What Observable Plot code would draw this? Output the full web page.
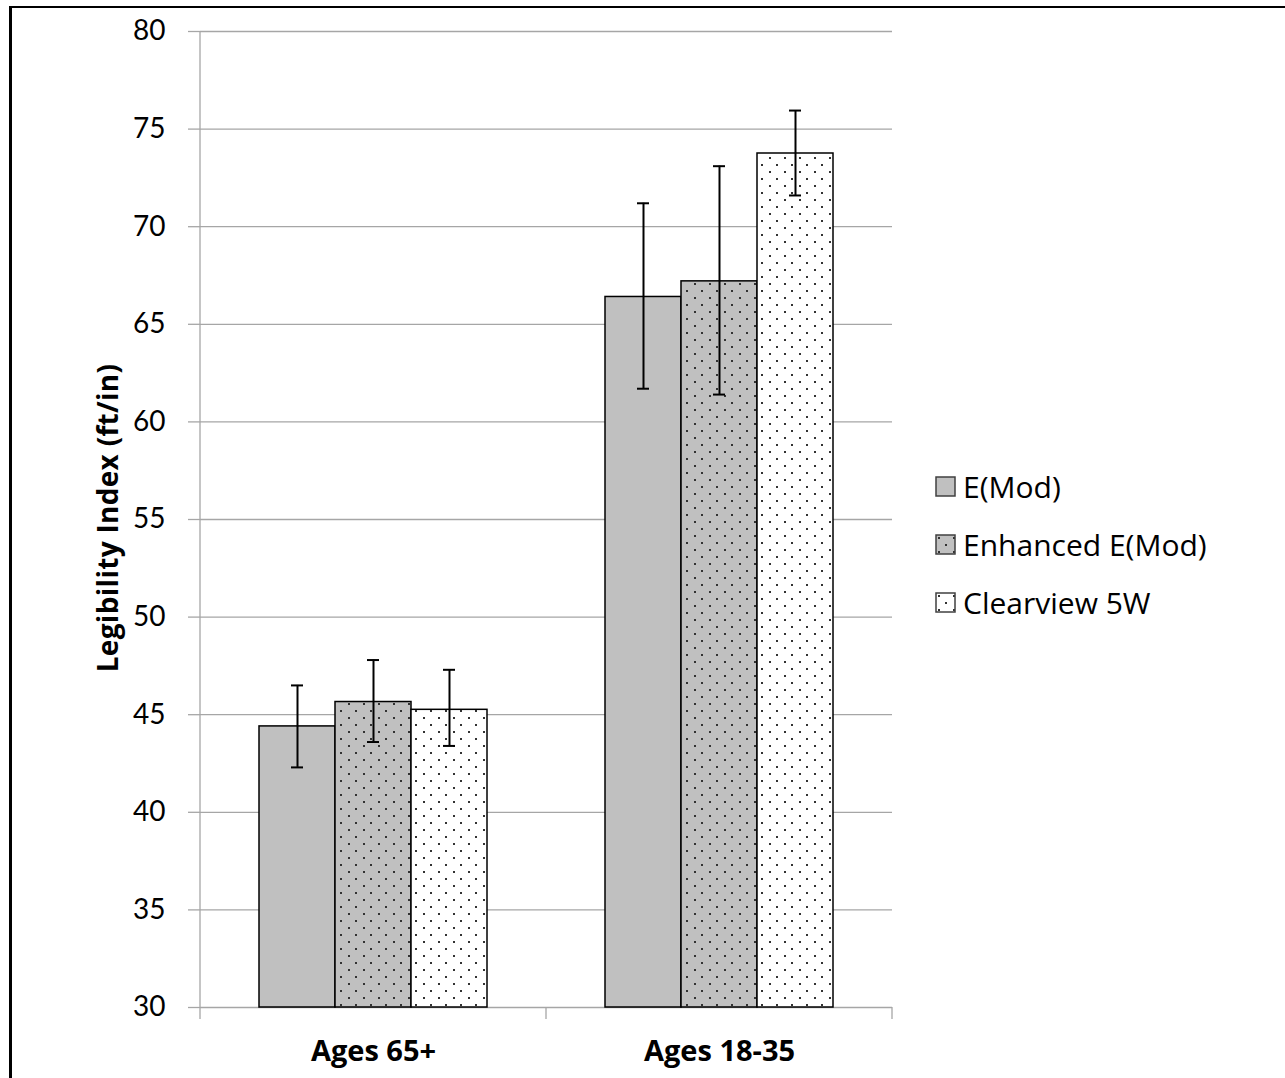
<!DOCTYPE html>
<html>
<head>
<meta charset="utf-8">
<script src="https://cdn.jsdelivr.net/npm/d3@7"></script>
<script src="https://cdn.jsdelivr.net/npm/@observablehq/plot@0.6"></script>
<style>
  body { margin: 0; background: #fff; }
  #wrap { position: relative; width: 1285px; height: 1078px; overflow: hidden; font-family: Lato, "Open Sans", sans-serif; background: #fff; }
  #frame { position: absolute; left: 9px; top: 6px; width: 1300px; height: 1100px; border-left: 3px solid #000; border-top: 2px solid #000; pointer-events: none; }
  #chart { position: absolute; left: 0; top: 0; }
  #ylabel { position: absolute; left: 107px; top: 518px; transform: translate(-50%, -50%) rotate(-90deg); font-family: "Open Sans", sans-serif; font-weight: bold; font-size: 28px; letter-spacing: 0.3px; white-space: nowrap; color: #000; }
  #legend { position: absolute; left: 935px; top: 457px; }
  .item { display: flex; align-items: center; height: 58px; font-family: "Open Sans", sans-serif; font-size: 30px; color: #000; }
  .item svg { margin-right: 7px; flex: none; }
</style>
</head>
<body>
<div id="wrap">
  <div id="chart"></div>
  <div id="ylabel">Legibility Index (ft/in)</div>
  <div id="legend"></div>
  <div id="frame"></div>
</div>
<script>
// ---- data ----
const groups = ["Ages 65+", "Ages 18-35"];
const series = ["E(Mod)", "Enhanced E(Mod)", "Clearview 5W"];
const meanAges65 = [44.4, 45.65, 45.25];
const meanAges18to35 = [66.4, 67.2, 73.75];
const upperAges65 = [46.5, 47.8, 47.3];
const upperAges18to35 = [71.2, 73.1, 75.95];
const lowerAges65 = [42.3, 43.6, 43.4];
const lowerAges18to35 = [61.7, 61.4, 71.6];
const yDomain = [30, 80];
const yTicks = [30, 35, 40, 45, 50, 55, 60, 65, 70, 75, 80];
const seriesFills = ["#c0c0c0", "url(#pat-enh)", "url(#pat-clear)"];

const means = [meanAges65, meanAges18to35];
const uppers = [upperAges65, upperAges18to35];
const lowers = [lowerAges65, lowerAges18to35];
const rows = [];
groups.forEach((g, gi) => series.forEach((s, si) => rows.push({
  group: g, series: s, value: means[gi][si], hi: uppers[gi][si], lo: lowers[gi][si]
})));

const chart = Plot.plot({
  width: 1285,
  height: 1078,
  marginLeft: 200,
  marginRight: 393,
  marginTop: 31,
  marginBottom: 71,
  style: { fontFamily: "Lato, 'Open Sans', sans-serif", background: "transparent", overflow: "visible" },
  fx: { domain: groups, padding: 0, label: null },
  x: { domain: series, paddingInner: 0, paddingOuter: 0.75, axis: null },
  y: { domain: yDomain, label: null },
  color: { domain: series, range: seriesFills },
  marks: [
    Plot.gridY(yTicks, { stroke: "#a6a6a6", strokeOpacity: 1, strokeWidth: 1.3 }),
    Plot.axisY(yTicks, { tickSize: 12, tickPadding: 23, fontSize: 28, stroke: "#a6a6a6", strokeWidth: 1.3, fill: "#000", label: null }),
    Plot.axisFx({ anchor: "bottom", tickSize: 0, tickPadding: 33, fontSize: 29, fill: "#000", label: null }),
    Plot.barY(rows, { fx: "group", x: "series", y1: yDomain[0], y2: "value", fill: "series", stroke: "#000", strokeWidth: 1.5 }),
    Plot.ruleX(rows, { fx: "group", x: "series", y1: "lo", y2: "hi", stroke: "#000", strokeWidth: 2 }),
    Plot.tickY(rows, { fx: "group", x: "series", y: "hi", insetLeft: 32, insetRight: 32, stroke: "#000", strokeWidth: 2 }),
    Plot.tickY(rows, { fx: "group", x: "series", y: "lo", insetLeft: 32, insetRight: 32, stroke: "#000", strokeWidth: 2 })
  ]
});
document.getElementById("chart").appendChild(chart);

const svg = d3.select(chart);
// patterns
const defs = svg.insert("defs", ":first-child");
function dotPattern(id, bg) {
  const p = defs.append("pattern").attr("id", id).attr("patternUnits", "userSpaceOnUse")
    .attr("width", 15).attr("height", 14);
  p.append("rect").attr("width", 15).attr("height", 14).attr("fill", bg);
  p.append("rect").attr("x", 3).attr("y", 3).attr("width", 2).attr("height", 2).attr("fill", "#333");
  p.append("rect").attr("x", 10).attr("y", 10).attr("width", 2).attr("height", 2).attr("fill", "#333");
}
dotPattern("pat-enh", "#c0c0c0");
dotPattern("pat-clear", "#ffffff");

// bold category labels
svg.selectAll("[aria-label='fx-axis tick label'] text")
  .attr("font-weight", "bold").attr("font-family", "'Open Sans', sans-serif");

// y axis line and category boundary ticks, from the plot's own scales
const ys = chart.scale("y"), fxs = chart.scale("fx");
const y = d3.scaleLinear(ys.domain, ys.range);
const fx = d3.scaleBand(fxs.domain, fxs.range).paddingInner(0).paddingOuter(0);
const bounds = [...fxs.domain.map(d => fx(d)), fx.range()[1]];
const g = svg.append("g").attr("stroke", "#a6a6a6").attr("stroke-width", 1.3);
g.append("line").attr("x1", bounds[0]).attr("x2", bounds[0]).attr("y1", y(yDomain[1])).attr("y2", y(yDomain[0]) + 12);
bounds.slice(1).forEach(b => g.append("line").attr("x1", b).attr("x2", b).attr("y1", y(yDomain[0])).attr("y2", y(yDomain[0]) + 12));

// legend
const legend = d3.select("#legend");
series.forEach((s, i) => {
  const item = legend.append("div").attr("class", "item");
  const sw = item.append("svg").attr("width", 21).attr("height", 21);
  sw.append("rect").attr("x", 1).attr("y", 1).attr("width", 19).attr("height", 19)
    .attr("fill", seriesFills[i]).attr("stroke", "#404040").attr("stroke-width", 1.5);
  item.append("span").text(s);
});
</script>
</body>
</html>
